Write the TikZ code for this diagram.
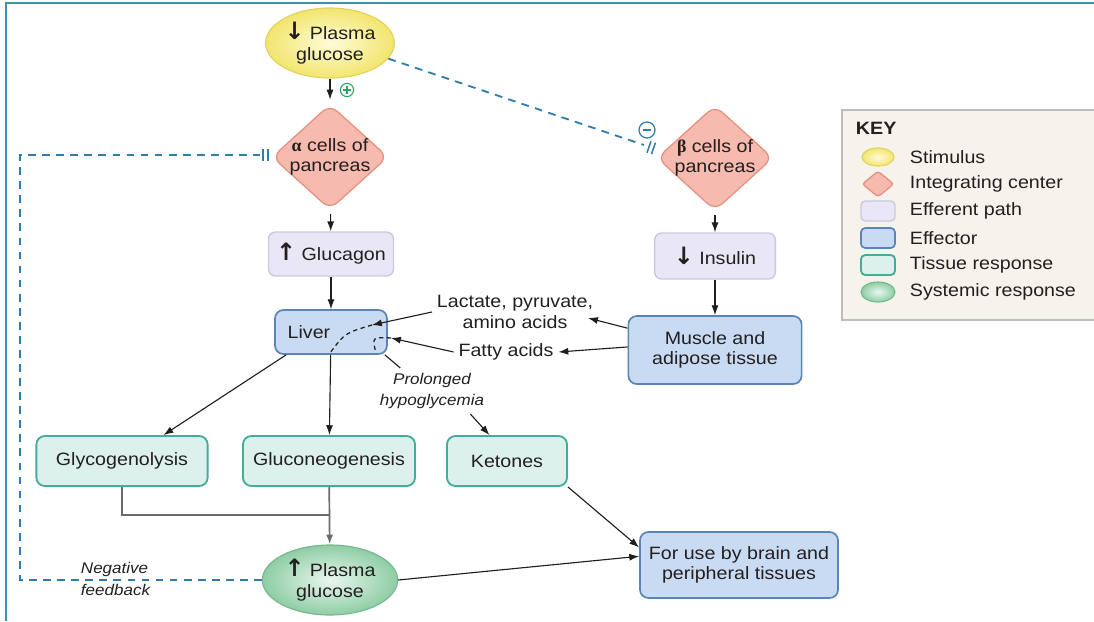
\documentclass[tikz,border=0pt]{standalone}
\usepackage{fontspec}
\setmainfont{Liberation Sans}[FakeStretch=1.1]
\newfontfamily\symfont{DejaVu Sans}
\newfontfamily\greekfont{Liberation Serif}
\usetikzlibrary{shapes.geometric,arrows.meta}

\definecolor{txt}{HTML}{231F20}
\definecolor{conn}{HTML}{1E1E1E}
\definecolor{grayconn}{HTML}{6A6A6A}
\definecolor{stimin}{HTML}{FFFCD8}
\definecolor{stimout}{HTML}{F2E56E}
\definecolor{stimline}{HTML}{E0D25C}
\definecolor{sysin}{HTML}{EAF7EF}
\definecolor{sysout}{HTML}{8ECDA4}
\definecolor{sysline}{HTML}{78B88E}
\definecolor{integfill}{HTML}{F6BAAF}
\definecolor{integline}{HTML}{E8907F}
\definecolor{efffill}{HTML}{E9E7F6}
\definecolor{effline}{HTML}{CBC7E4}
\definecolor{ectfill}{HTML}{C9DBF2}
\definecolor{ectline}{HTML}{5B84B8}
\definecolor{tisfill}{HTML}{DCF1EC}
\definecolor{tisline}{HTML}{45AB9B}
\definecolor{fbblue}{HTML}{2F7DAC}
\definecolor{plusgreen}{HTML}{2AA860}
\definecolor{frameteal}{HTML}{4090A8}
\definecolor{keybg}{HTML}{F6F3EC}
\definecolor{keyline}{HTML}{BDBDBD}

\newcommand\mainsize{\fontsize{12.7}{14.5}\selectfont}
\newcommand\notesize{\fontsize{11}{15.5}\selectfont\itshape}
\newcommand\arrdown{{\symfont\bfseries\fontsize{17}{14.5}\selectfont ↓}}
\newcommand\arrup{{\symfont\bfseries\fontsize{17}{14.5}\selectfont ↑}}

\tikzset{
  stimulus/.style={ellipse, draw=stimline, line width=0.8pt, inner color=stimin, outer color=stimout,
    minimum width=3.1cm, minimum height=1.75cm, inner sep=0pt, align=center},
  systemic/.style={ellipse, draw=sysline, line width=0.8pt, inner color=sysin, outer color=sysout,
    minimum width=3.38cm, minimum height=1.75cm, inner sep=0pt, align=center},
  integ/.style={diamond, aspect=1.1, draw=integline, line width=0.9pt, fill=integfill,
    rounded corners=7pt, inner sep=-1pt, minimum width=2.9cm, minimum height=2.55cm, align=center},
  efferent/.style={rectangle, rounded corners=5pt, draw=effline, line width=1pt, fill=efffill, align=center},
  effector/.style={rectangle, rounded corners=6pt, draw=ectline, line width=1.2pt, fill=ectfill, align=center},
  tissue/.style={rectangle, rounded corners=6pt, draw=tisline, line width=1.3pt, fill=tisfill, align=center},
  arr/.style={-{Latex[length=7pt,width=5pt]}, line width=0.8pt, draw=conn},
  fb/.style={draw=fbblue, line width=1.3pt, dash pattern=on 5.5pt off 4.5pt},
  note/.style={font=\notesize, align=center},
}

\begin{document}
\begin{tikzpicture}[x=0.025cm, y=-0.025cm, font=\mainsize, text=txt]
  \useasboundingbox (0,0) rectangle (1094,621);
  \draw[frameteal, line width=2pt] (6,621) -- (6,3) -- (1094,3);

  % alpha side
  \node[stimulus] (glclow) at (330,43) {\arrdown\ Plasma\\glucose};
  \node[integ] (alpha) at (330,157) {{\greekfont\bfseries α} cells of\\pancreas};
  \node[efferent, minimum width=3.125cm, minimum height=1.1cm] (glucagon) at (331,254) {\arrup\ Glucagon};
  \node[effector, minimum width=2.8cm, minimum height=1.1cm] (liver) at (331,332) {Liver\hspace*{1.1cm}};

  % beta side
  \node[integ] (beta) at (715,158) {{\greekfont\bfseries β} cells of\\pancreas};
  \node[efferent, minimum width=3.02cm, minimum height=1.15cm] (insulin) at (715,256) {\arrdown\ Insulin};
  \node[effector, minimum width=4.33cm, minimum height=1.7cm] (muscle) at (715,350) {Muscle and\\adipose tissue};
  \node[align=center] (lactate) at (515,312) {Lactate, pyruvate,\\amino acids};
  \node (fatty) at (506,352) {Fatty acids};
  \node[note] (prolonged) at (432,391) {Prolonged\\hypoglycemia};

  % responses
  \node[tissue, minimum width=4.28cm, minimum height=1.25cm] (glyco) at (122,461) {Glycogenolysis};
  \node[tissue, minimum width=4.3cm, minimum height=1.25cm] (gluconeo) at (329,461) {Gluconeogenesis};
  \node[tissue, minimum width=3cm, minimum height=1.25cm] (ketones) at (507,461) {Ketones};
  \node[systemic] (glchigh) at (330,580) {\arrup\ Plasma\\glucose};
  \node[effector, minimum width=4.95cm, minimum height=1.65cm] (brain) at (739,565) {For use by brain and\\peripheral tissues};
  \node[note, align=left, anchor=west] (negfb) at (76,579) {Negative\\feedback};

  \node[circle, draw=plusgreen, line width=0.8pt, minimum size=0.33cm, inner sep=0pt] (plus) at (347,90) {};
  \draw[plusgreen, line width=0.8pt] ([xshift=-2.8pt]plus.center) -- ([xshift=2.8pt]plus.center)
    ([yshift=-2.8pt]plus.center) -- ([yshift=2.8pt]plus.center);
  \node[circle, draw=fbblue, line width=0.9pt, minimum size=0.4cm, inner sep=0pt] (minus) at (647,130) {};
  \draw[fbblue, line width=1pt] ([xshift=-3pt]minus.center) -- ([xshift=3pt]minus.center);

  \coordinate (ainh) at (260,155);
  \coordinate (fbturn) at (20,155);
  \coordinate (binh) at (644,145);
  \coordinate (lacin) at (372,325);
  \coordinate (fatin) at (391,338);
  \coordinate (join) at (329,515);

  \draw[arr, shorten >=3pt] (glclow) -- (alpha);
  \draw[arr, shorten <=3pt] (alpha) -- (glucagon);
  \draw[arr] (glucagon) -- (liver);
  \draw[arr, shorten <=3pt] (beta) -- (insulin);
  \draw[arr] (insulin) -- (muscle);
  \draw[arr] (muscle.166) -- ([shift={(-10,6)}]lactate.east);
  \draw[arr] (muscle.178) -- (fatty.east);
  \draw[arr] (lactate.west) -- (lacin);
  \draw[conn, line width=0.9pt, dash pattern=on 3pt off 2.5pt] (lacin) .. controls (345,333) .. (330,353);
  \draw[arr] (fatty.west) -- (fatin);
  \draw[conn, line width=0.9pt, dash pattern=on 3pt off 2.5pt] (fatin) .. controls (372,337) .. (376,353);
  \draw[arr] (liver.-153) -- (glyco.32);
  \draw[arr] (liver) -- (gluconeo);
  \draw[conn, line width=0.8pt] (liver.-23) -- (prolonged.144);
  \draw[arr] (prolonged.-31) -- (ketones.124);
  \draw[grayconn, line width=1.2pt] (glyco.south) |- (join);
  \draw[arr, draw=grayconn, line width=1.2pt] (gluconeo) -- (glchigh);
  \draw[arr] (ketones.south east) -- (brain.170);
  \draw[arr] (glchigh.east) -- (brain.175);

  % feedback
  \draw[fb] (glclow.-15) -- (binh);
  \draw[fbblue, line width=1.1pt] ([shift={(7,-3.7)}]binh) -- ([shift={(3,7.7)}]binh)
    ([shift={(11.5,-2.4)}]binh) -- ([shift={(7.5,9)}]binh);
  \draw[fb] (glchigh.west) -| (fbturn) -- (ainh);
  \draw[fbblue, line width=1.1pt] ([shift={(3,-6)}]ainh) -- ([shift={(3,6)}]ainh)
    ([shift={(8,-6)}]ainh) -- ([shift={(8,6)}]ainh);

  % key
  \fill[keybg] (842,110) rectangle (1094,320);
  \draw[keyline, line width=2pt] (1094,110) -- (842,110) -- (842,320) -- (1094,320);
  \node[anchor=west, font=\mainsize\bfseries] (keyhead) at (851,128) {KEY};
  \node[stimulus, minimum width=0.8cm, minimum height=0.45cm] (kstim) at (878,157) {};
  \node[integ, minimum width=0.8cm, minimum height=0.65cm, rounded corners=2pt, inner sep=0pt] (kinteg) at (878,184) {};
  \node[efferent, minimum width=0.85cm, minimum height=0.5cm, rounded corners=3pt] (keff) at (878,211) {};
  \node[effector, minimum width=0.85cm, minimum height=0.5cm, rounded corners=3pt] (kect) at (878,238) {};
  \node[tissue, minimum width=0.85cm, minimum height=0.5cm, rounded corners=3pt] (ktis) at (878,265) {};
  \node[systemic, minimum width=0.85cm, minimum height=0.5cm] (ksys) at (878,292) {};
  \node[anchor=west] (kstimtxt) at (905,157) {Stimulus};
  \node[anchor=west] (kintegtxt) at (905,184) {Integrating center};
  \node[anchor=west] (kefftxt) at (905,211) {Efferent path};
  \node[anchor=west] (kecttxt) at (905,238) {Effector};
  \node[anchor=west] (ktistxt) at (905,265) {Tissue response};
  \node[anchor=west] (ksystxt) at (905,292) {Systemic response};
\end{tikzpicture}
\end{document}
